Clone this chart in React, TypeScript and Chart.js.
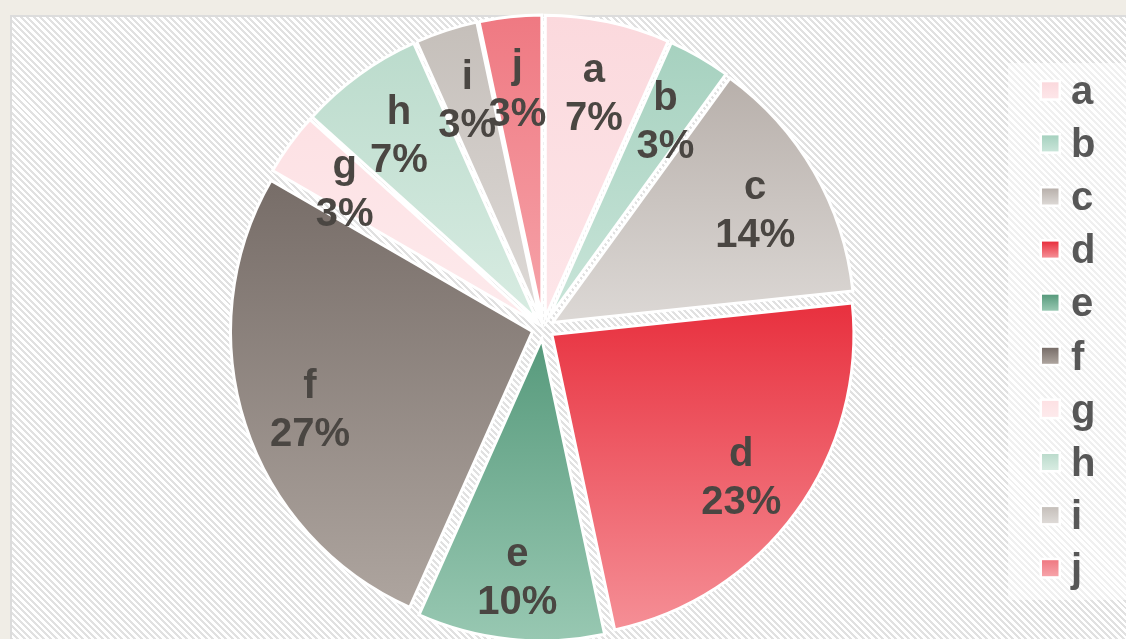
import { useEffect, useRef } from 'react';
import { Chart, registerables } from 'chart.js';

Chart.register(...registerables);

// ---- data ----
const categories = ['a', 'b', 'c', 'd', 'e', 'f', 'g', 'h', 'i', 'j'];
const values = [2, 1, 4, 7, 3, 8, 1, 2, 1, 1];
const percentLabels = ['7%', '3%', '14%', '23%', '10%', '27%', '3%', '7%', '3%', '3%'];
const topColors = ['#fbd9dd', '#a6d1bf', '#b8b0ab', '#e8303e', '#579a7c', '#776d68', '#fde1e4', '#bbdbcc', '#c5bfba', '#ef7982'];
const bottomColors = ['#fde6e9', '#c9e5d9', '#dcd8d5', '#f58f96', '#98c8b2', '#aea59f', '#fdeaec', '#d8ece2', '#dedad7', '#f6a3a9'];

// ---- styling constants ----
const EXPLODE = 11;
const FONT = 'bold 40px "Liberation Sans", Arial, sans-serif';
const LABEL_COLOR = '#4a4642';
const LEGEND_COLOR = '#575757';

const explodePlugin = {
  id: 'explodeGradient',
  afterDatasetUpdate(chart: any, args: any) {
    const meta = chart.getDatasetMeta(args.index);
    const ctx = chart.ctx;
    meta.data.forEach((el: any, i: number) => {
      const mid = (el.startAngle + el.endAngle) / 2;
      el.x += Math.cos(mid) * EXPLODE;
      el.y += Math.sin(mid) * EXPLODE;
      let yMin = el.y;
      let yMax = el.y;
      for (let k = 0; k <= 80; k++) {
        const a = el.startAngle + ((el.endAngle - el.startAngle) * k) / 80;
        const yy = el.y + el.outerRadius * Math.sin(a);
        yMin = Math.min(yMin, yy);
        yMax = Math.max(yMax, yy);
      }
      const g = ctx.createLinearGradient(0, yMin, 0, yMax);
      g.addColorStop(0, topColors[i]);
      g.addColorStop(1, bottomColors[i]);
      el.options = { ...el.options, backgroundColor: g };
    });
  },
};

const labelPlugin = {
  id: 'sliceLabels',
  afterDatasetsDraw(chart: any) {
    const meta = chart.getDatasetMeta(0);
    const ctx = chart.ctx;
    const labels = chart.data.labels as string[];
    ctx.save();
    ctx.fillStyle = LABEL_COLOR;
    ctx.font = FONT;
    ctx.textAlign = 'center';
    ctx.textBaseline = 'alphabetic';
    meta.data.forEach((el: any, i: number) => {
      const mid = (el.startAngle + el.endAngle) / 2;
      const d = el.outerRadius * 0.775;
      const x = el.x + Math.cos(mid) * d;
      const y = el.y + Math.sin(mid) * d;
      ctx.fillText(labels[i], x, y - 6);
      ctx.fillText(percentLabels[i], x, y + 42);
    });
    ctx.restore();
  },
};

const legendPlugin = {
  id: 'sideLegend',
  afterDraw(chart: any) {
    const ctx = chart.ctx;
    const labels = chart.data.labels as string[];
    ctx.save();
    ctx.font = FONT;
    ctx.textAlign = 'left';
    ctx.textBaseline = 'alphabetic';
    labels.forEach((lab, i) => {
      const base = 104 + 53.1 * i;
      const bx = 1042;
      const by = base - 21.7;
      ctx.fillStyle = '#ffffff';
      ctx.fillRect(bx - 2.5, by - 2.5, 21.5, 21);
      const g = ctx.createLinearGradient(0, by, 0, by + 16);
      g.addColorStop(0, topColors[i]);
      g.addColorStop(1, bottomColors[i]);
      ctx.fillStyle = g;
      ctx.fillRect(bx, by, 16.5, 16);
      ctx.fillStyle = LEGEND_COLOR;
      ctx.fillText(lab, 1071, base);
    });
    ctx.restore();
  },
};

export default function App() {
  const ref = useRef<HTMLCanvasElement>(null);

  useEffect(() => {
    const canvas = ref.current;
    if (!canvas) return;
    const chart = new Chart(canvas, {
      type: 'pie',
      data: {
        labels: categories,
        datasets: [
          {
            data: values,
            backgroundColor: topColors,
            borderColor: '#ffffff',
            borderWidth: 3,
            borderJoinStyle: 'miter',
            radius: 302,
          } as any,
        ],
      },
      options: {
        animation: false,
        responsive: false,
        events: [],
        layout: { padding: { left: 0, right: 40, top: 17, bottom: 0 } },
        plugins: {
          legend: { display: false },
          tooltip: { enabled: false },
        },
      },
      plugins: [explodePlugin, labelPlugin, legendPlugin],
    });
    return () => chart.destroy();
  }, []);

  return (
    <div
      style={{
        position: 'fixed',
        left: 0,
        top: 0,
        width: 1126,
        height: 639,
        overflow: 'hidden',
        background: '#f0ede6',
      }}
    >
      <div
        style={{
          position: 'absolute',
          left: 10,
          top: 15,
          width: 1140,
          height: 660,
          border: '2px solid #dcdcdc',
          background:
            'repeating-linear-gradient(45deg, #ffffff 0px, #ffffff 2.5px, #e1e1e1 2.5px, #e1e1e1 4.6px)',
        }}
      />
      <div
        style={{
          position: 'absolute',
          left: 1008,
          top: 63,
          width: 130,
          height: 537,
          background: 'rgba(255,255,255,0.5)',
        }}
      />
      <canvas
        ref={ref}
        width={1126}
        height={639}
        style={{ position: 'absolute', left: 0, top: 0 }}
      />
    </div>
  );
}
